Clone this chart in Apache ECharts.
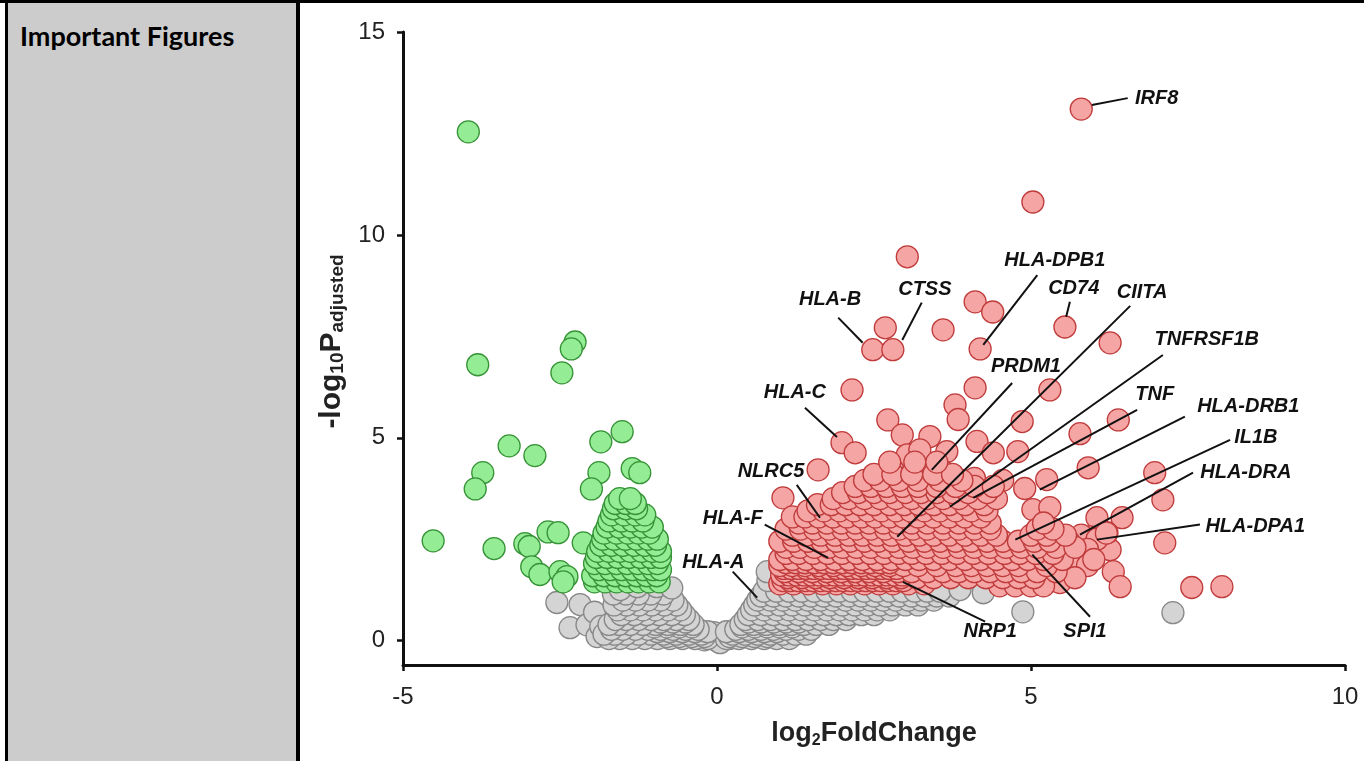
<!DOCTYPE html>
<html>
<head>
<meta charset="utf-8">
<script src="https://cdn.jsdelivr.net/npm/echarts@6/dist/echarts.min.js"></script>
<style>
  html, body { margin: 0; padding: 0; background: #fff; }
  #topline { position: absolute; left: 0; top: 0; width: 1364px; height: 3px; background: #000; }
  #leftline { position: absolute; left: 5px; top: 0; width: 3px; height: 761px; background: #000; }
  #panel { position: absolute; left: 8px; top: 3px; width: 288px; height: 758px; background: #cccccc; }
  #sepline { position: absolute; left: 296px; top: 0; width: 4px; height: 761px; background: #000; }
  #title { position: absolute; left: 20px; top: 22px; font: bold 27px Lato, "Open Sans", sans-serif; line-height: 27px; color: #000; }
  #chart { position: absolute; left: 300px; top: 3px; width: 1064px; height: 758px; }
</style>
</head>
<body>
<div id="panel"></div>
<div id="topline"></div>
<div id="leftline"></div>
<div id="sepline"></div>
<div id="title">Important Figures</div>
<div id="chart"></div>
<script>
// log2FoldChange, -log10(padj)

// down-regulated (green)
const downPoints = [
  [-3.96, 12.54], [-3.81, 6.80], [-2.26, 7.36], [-2.32, 7.19], [-2.47, 6.60],
  [-3.31, 4.80], [-2.90, 4.56], [-3.73, 4.14], [-3.85, 3.74], [-4.52, 2.46],
  [-3.55, 2.27], [-1.85, 4.90], [-1.51, 5.15], [-1.88, 4.14], [-1.35, 4.24],
  [-1.23, 4.14], [-2.00, 3.74], [-2.69, 2.68], [-2.53, 2.66], [-3.06, 2.39],
  [-2.99, 2.32], [-2.95, 1.82], [-2.82, 1.63], [-2.50, 1.70], [-2.39, 1.58],
  [-2.45, 1.45], [-2.13, 2.41], [-1.91, 1.50],
  [-1.95, 1.45], [-1.78, 1.45], [-1.60, 1.45], [-1.42, 1.45], [-1.25, 1.45], [-1.08, 1.45], [-0.92, 1.45],
  [-1.98, 1.60], [-1.80, 1.60], [-1.62, 1.60], [-1.45, 1.60], [-1.28, 1.60], [-1.12, 1.60], [-0.96, 1.60],
  [-1.88, 1.75], [-1.70, 1.75], [-1.52, 1.75], [-1.35, 1.75], [-1.18, 1.75], [-1.02, 1.75], [-0.90, 1.75],
  [-1.95, 1.90], [-1.78, 1.90], [-1.60, 1.90], [-1.43, 1.90], [-1.26, 1.90], [-1.10, 1.90], [-0.95, 1.90],
  [-1.92, 2.05], [-1.75, 2.05], [-1.58, 2.05], [-1.40, 2.05], [-1.22, 2.05], [-1.05, 2.05], [-0.90, 2.05],
  [-1.90, 2.20], [-1.72, 2.20], [-1.55, 2.20], [-1.38, 2.20], [-1.20, 2.20], [-1.03, 2.20], [-0.90, 2.20],
  [-1.85, 2.35], [-1.68, 2.35], [-1.50, 2.35], [-1.32, 2.35], [-1.15, 2.35], [-0.98, 2.35],
  [-1.82, 2.50], [-1.64, 2.50], [-1.46, 2.50], [-1.28, 2.50], [-1.10, 2.50], [-0.95, 2.50],
  [-1.80, 2.65], [-1.60, 2.65], [-1.42, 2.65], [-1.25, 2.65], [-1.08, 2.65],
  [-1.75, 2.80], [-1.56, 2.80], [-1.38, 2.80], [-1.20, 2.80], [-1.03, 2.80],
  [-1.72, 2.95], [-1.52, 2.95], [-1.35, 2.95], [-1.18, 2.95],
  [-1.68, 3.10], [-1.48, 3.10], [-1.30, 3.10], [-1.15, 3.10],
  [-1.65, 3.25], [-1.45, 3.25], [-1.28, 3.25],
  [-1.62, 3.38], [-1.45, 3.38], [-1.30, 3.38],
  [-1.55, 3.50], [-1.38, 3.50]
];

// not significant (grey)
const nsPoints = [
  [-2.55, 0.94], [-2.18, 0.89], [-2.34, 0.32], [-2.07, 0.39], [-1.91, 0.10],
  [-1.75, 0.64], [-1.95, 0.70], [-1.85, 0.35],
  [0.00, 0.00], [0.10, 0.10], [-0.10, 0.10], [0.05, -0.05], [-0.05, 0.20], [0.20, 0.05], [-0.20, 0.02],
  [-0.15, 0.05], [-0.35, 0.05], [-0.55, 0.05], [-0.75, 0.05], [-0.95, 0.05], [-1.15, 0.05], [-1.35, 0.05], [-1.55, 0.05], [-1.72, 0.05],
  [0.15, 0.05], [0.35, 0.05], [0.55, 0.05], [0.75, 0.05], [0.95, 0.05], [1.15, 0.05],
  [-0.40, 0.10], [-0.20, 0.10], [0.20, 0.10], [0.40, 0.10], [0.60, 0.10], [-0.60, 0.10], [-0.80, 0.10], [0.80, 0.10],
  [-0.25, 0.16], [-0.45, 0.16], [-0.65, 0.16], [-0.85, 0.16], [-1.05, 0.16], [-1.25, 0.16], [-1.45, 0.16], [-1.63, 0.16], [-1.80, 0.16],
  [0.25, 0.16], [0.45, 0.16], [0.65, 0.16], [0.85, 0.16], [1.05, 0.16], [1.25, 0.16], [1.42, 0.16],
  [-0.35, 0.22], [-0.15, 0.22], [0.15, 0.22], [0.35, 0.22], [-0.55, 0.22], [0.55, 0.22], [-0.75, 0.22], [0.75, 0.22], [0.95, 0.22], [-0.95, 0.22],
  [-0.30, 0.28], [-0.50, 0.28], [-0.70, 0.28], [-0.90, 0.28], [-1.10, 0.28], [-1.30, 0.28], [-1.50, 0.28], [-1.68, 0.28],
  [0.30, 0.28], [0.50, 0.28], [0.70, 0.28], [0.90, 0.28], [1.10, 0.28], [1.30, 0.28], [1.50, 0.28],
  [-0.40, 0.34], [-0.60, 0.34], [-0.80, 0.34], [0.40, 0.34], [0.60, 0.34], [0.80, 0.34], [1.00, 0.34], [-1.00, 0.34], [1.20, 0.34],
  [-0.38, 0.40], [-0.58, 0.40], [-0.78, 0.40], [-0.98, 0.40], [-1.18, 0.40], [-1.38, 0.40], [-1.56, 0.40], [-1.72, 0.40],
  [0.38, 0.40], [0.58, 0.40], [0.78, 0.40], [0.98, 0.40], [1.18, 0.40], [1.38, 0.40], [1.58, 0.40], [1.78, 0.40],
  [-0.50, 0.46], [-0.70, 0.46], [-0.90, 0.46], [0.50, 0.46], [0.70, 0.46], [0.90, 0.46], [1.10, 0.46], [1.30, 0.46],
  [-0.45, 0.52], [-0.65, 0.52], [-0.85, 0.52], [-1.05, 0.52], [-1.25, 0.52], [-1.45, 0.52], [-1.62, 0.52],
  [0.45, 0.52], [0.65, 0.52], [0.85, 0.52], [1.05, 0.52], [1.25, 0.52], [1.45, 0.52], [1.65, 0.52], [1.85, 0.52], [2.05, 0.52],
  [-0.52, 0.64], [-0.72, 0.64], [-0.92, 0.64], [-1.12, 0.64], [-1.32, 0.64], [-1.52, 0.64],
  [0.50, 0.64], [0.70, 0.64], [0.90, 0.64], [1.10, 0.64], [1.30, 0.64], [1.50, 0.64], [1.70, 0.64], [1.90, 0.64], [2.10, 0.64], [2.30, 0.64], [2.50, 0.64],
  [-0.58, 0.76], [-0.78, 0.76], [-0.98, 0.76], [-1.18, 0.76], [-1.38, 0.76], [-1.58, 0.76],
  [0.55, 0.76], [0.75, 0.76], [0.95, 0.76], [1.15, 0.76], [1.35, 0.76], [1.55, 0.76], [1.75, 0.76], [1.95, 0.76], [2.15, 0.76], [2.35, 0.76], [2.55, 0.76], [2.75, 0.76],
  [-0.64, 0.88], [-0.84, 0.88], [-1.04, 0.88], [-1.24, 0.88], [-1.44, 0.88], [-1.64, 0.88],
  [0.60, 0.88], [0.80, 0.88], [1.00, 0.88], [1.20, 0.88], [1.40, 0.88], [1.60, 0.88], [1.80, 0.88], [2.00, 0.88], [2.20, 0.88], [2.40, 0.88], [2.60, 0.88], [2.80, 0.88], [3.00, 0.88], [3.20, 0.88],
  [-0.70, 1.00], [-0.90, 1.00], [-1.10, 1.00], [-1.30, 1.00], [-1.50, 1.00],
  [0.65, 1.00], [0.85, 1.00], [1.05, 1.00], [1.25, 1.00], [1.45, 1.00], [1.65, 1.00], [1.85, 1.00], [2.05, 1.00], [2.25, 1.00], [2.45, 1.00], [2.65, 1.00], [2.85, 1.00], [3.05, 1.00], [3.25, 1.00], [3.45, 1.00],
  [0.70, 1.10], [0.90, 1.10], [1.10, 1.10], [1.30, 1.10], [1.50, 1.10], [1.70, 1.10], [1.90, 1.10], [2.10, 1.10], [2.30, 1.10], [2.50, 1.10], [2.70, 1.10], [2.90, 1.10], [3.10, 1.10], [3.30, 1.10], [3.50, 1.10], [3.70, 1.10],
  [-0.85, 1.15], [-1.05, 1.15], [-1.25, 1.15], [-1.45, 1.15], [-1.65, 1.15],
  [0.75, 1.22], [0.95, 1.22], [1.15, 1.22], [1.35, 1.22], [1.55, 1.22], [1.75, 1.22], [1.95, 1.22], [2.15, 1.22], [2.35, 1.22], [2.55, 1.22], [2.75, 1.22], [2.95, 1.22], [3.15, 1.22], [3.35, 1.22], [3.55, 1.22],
  [-1.54, 1.26], [-1.27, 1.33], [-0.96, 1.33], [-0.72, 1.30],
  [3.87, 1.26], [4.24, 1.18], [0.81, 1.48], [0.80, 1.70], [4.87, 0.71], [7.26, 0.69]
];

// up-regulated (red)
const upPoints = [
  [5.80, 13.10], [5.03, 10.81], [3.03, 9.46], [4.11, 8.35], [4.39, 8.10],
  [3.60, 7.66], [2.68, 7.71], [2.48, 7.17], [2.80, 7.17], [4.19, 7.19],
  [5.54, 7.73], [6.26, 7.34], [2.15, 6.18], [4.11, 6.23], [5.30, 6.18],
  [3.79, 5.81], [3.84, 5.45], [2.72, 5.44], [2.95, 5.07], [3.39, 5.03],
  [4.86, 5.40], [6.39, 5.44], [5.78, 5.10], [1.99, 4.88], [2.20, 4.63],
  [1.61, 4.21], [1.05, 3.52], [3.03, 4.58], [3.23, 4.70], [3.66, 4.66],
  [4.14, 4.91], [4.40, 4.63], [4.79, 4.66], [5.91, 4.26], [6.97, 4.14],
  [5.25, 3.97], [7.10, 3.47], [6.45, 3.03], [6.05, 3.03], [7.13, 2.41],
  [6.26, 2.24], [6.31, 1.70], [6.42, 1.33], [7.56, 1.31], [8.04, 1.33],
  [5.03, 3.23], [5.30, 3.28], [6.21, 2.66], [5.94, 2.56], [5.73, 2.32],
  [5.51, 2.17], [5.35, 1.92], [5.46, 1.43], [2.55, 4.02], [2.80, 4.21],
  [3.42, 4.21], [3.62, 4.15], [4.10, 4.00], [4.55, 3.95], [4.90, 3.75],
  [5.80, 2.60], [6.05, 2.50], [5.60, 2.45], [5.90, 2.25], [6.20, 2.65],
  [5.65, 2.00], [5.90, 1.85], [5.70, 1.55], [6.00, 2.00],
  [4.50, 1.35], [4.75, 1.35], [5.00, 1.35], [5.20, 1.35],
  [1.00, 1.40], [1.22, 1.40], [1.45, 1.40], [1.68, 1.40], [1.90, 1.40], [2.12, 1.40], [2.35, 1.40], [2.58, 1.40], [2.80, 1.40], [3.05, 1.40], [3.30, 1.40],
  [1.05, 1.48], [1.17, 1.48], [1.29, 1.48], [1.41, 1.48], [1.53, 1.48], [1.65, 1.48], [1.77, 1.48], [1.89, 1.48], [2.01, 1.48],
  [2.13, 1.48], [2.25, 1.48], [2.37, 1.48], [2.49, 1.48], [2.61, 1.48], [2.73, 1.48], [2.85, 1.48], [2.97, 1.48],
  [1.12, 1.55], [1.35, 1.55], [1.57, 1.55], [1.80, 1.55], [2.02, 1.55], [2.25, 1.55], [2.47, 1.55], [2.70, 1.55], [2.93, 1.55],
  [3.18, 1.55], [3.45, 1.55], [3.72, 1.55], [4.00, 1.55], [4.28, 1.55], [4.55, 1.55], [4.80, 1.55], [5.05, 1.55],
  [1.03, 1.62], [1.15, 1.62], [1.27, 1.62], [1.39, 1.62], [1.51, 1.62], [1.63, 1.62], [1.75, 1.62], [1.87, 1.62], [1.99, 1.62],
  [2.11, 1.62], [2.23, 1.62], [2.35, 1.62], [2.47, 1.62], [2.59, 1.62], [2.71, 1.62], [2.83, 1.62], [2.95, 1.62],
  [1.08, 1.70], [1.30, 1.70], [1.52, 1.70], [1.75, 1.70], [1.98, 1.70], [2.20, 1.70], [2.42, 1.70], [2.65, 1.70], [2.88, 1.70], [3.10, 1.70],
  [3.35, 1.70], [3.60, 1.70], [3.85, 1.70], [4.10, 1.70], [4.35, 1.70], [4.60, 1.70], [4.85, 1.70], [5.10, 1.70], [5.40, 1.70],
  [1.06, 1.78], [1.18, 1.78], [1.30, 1.78], [1.42, 1.78], [1.54, 1.78], [1.66, 1.78], [1.78, 1.78], [1.90, 1.78],
  [2.02, 1.78], [2.14, 1.78], [2.26, 1.78], [2.38, 1.78], [2.50, 1.78], [2.62, 1.78], [2.74, 1.78], [2.86, 1.78],
  [1.00, 1.85], [1.20, 1.85], [1.40, 1.85], [1.62, 1.85], [1.85, 1.85], [2.07, 1.85], [2.30, 1.85], [2.52, 1.85], [2.75, 1.85],
  [2.97, 1.85], [3.20, 1.85], [3.50, 1.85], [3.80, 1.85], [4.05, 1.85], [4.30, 1.85], [4.55, 1.85], [4.80, 1.85], [5.25, 1.85],
  [1.10, 1.92], [1.25, 1.92], [1.40, 1.92], [1.55, 1.92], [1.70, 1.92], [1.85, 1.92], [2.00, 1.92], [2.15, 1.92],
  [2.30, 1.92], [2.45, 1.92], [2.60, 1.92], [2.75, 1.92],
  [1.00, 2.00], [1.20, 2.00], [1.42, 2.00], [1.65, 2.00], [1.88, 2.00], [2.10, 2.00], [2.32, 2.00], [2.55, 2.00], [2.78, 2.00], [3.00, 2.00],
  [3.22, 2.00], [3.45, 2.00], [3.70, 2.00], [3.95, 2.00], [4.20, 2.00], [4.45, 2.00], [4.70, 2.00], [4.95, 2.00], [5.20, 2.00], [5.50, 2.00],
  [1.10, 2.15], [1.30, 2.15], [1.53, 2.15], [1.76, 2.15], [1.99, 2.15], [2.22, 2.15], [2.44, 2.15], [2.66, 2.15], [2.89, 2.15], [3.10, 2.15],
  [3.33, 2.15], [3.58, 2.15], [3.82, 2.15], [4.08, 2.15], [4.32, 2.15], [4.58, 2.15], [4.82, 2.15], [5.08, 2.15], [5.35, 2.15],
  [1.10, 2.30], [1.32, 2.30], [1.55, 2.30], [1.78, 2.30], [2.00, 2.30], [2.22, 2.30], [2.45, 2.30], [2.68, 2.30], [2.90, 2.30], [3.12, 2.30],
  [3.35, 2.30], [3.60, 2.30], [3.85, 2.30], [4.10, 2.30], [4.35, 2.30], [4.60, 2.30], [4.85, 2.30], [5.10, 2.30], [5.40, 2.30], [5.70, 2.30],
  [1.00, 2.45], [1.22, 2.45], [1.45, 2.45], [1.67, 2.45], [1.90, 2.45], [2.12, 2.45], [2.35, 2.45], [2.57, 2.45], [2.80, 2.45], [3.05, 2.45],
  [3.30, 2.45], [3.55, 2.45], [3.80, 2.45], [4.05, 2.45], [4.30, 2.45], [4.55, 2.45], [4.80, 2.45], [5.05, 2.45], [5.30, 2.45],
  [1.20, 2.60], [1.42, 2.60], [1.65, 2.60], [1.88, 2.60], [2.10, 2.60], [2.32, 2.60], [2.55, 2.60], [2.78, 2.60], [3.00, 2.60],
  [3.22, 2.60], [3.45, 2.60], [3.70, 2.60], [3.95, 2.60], [4.20, 2.60], [4.45, 2.60], [5.00, 2.60], [5.25, 2.60], [5.55, 2.60],
  [1.10, 2.75], [1.33, 2.75], [1.55, 2.75], [1.78, 2.75], [2.00, 2.75], [2.22, 2.75], [2.45, 2.75], [2.68, 2.75], [2.90, 2.75],
  [3.12, 2.75], [3.35, 2.75], [3.60, 2.75], [3.85, 2.75], [4.10, 2.75], [4.35, 2.75], [5.10, 2.75], [5.35, 2.75],
  [1.30, 2.90], [1.52, 2.90], [1.75, 2.90], [1.98, 2.90], [2.20, 2.90], [2.42, 2.90], [2.65, 2.90], [2.88, 2.90],
  [3.10, 2.90], [3.35, 2.90], [3.60, 2.90], [3.85, 2.90], [4.10, 2.90], [4.35, 2.90], [5.20, 2.90],
  [1.20, 3.05], [1.40, 3.05], [1.62, 3.05], [1.85, 3.05], [2.07, 3.05], [2.30, 3.05], [2.52, 3.05], [2.75, 3.05], [2.97, 3.05],
  [3.20, 3.05], [3.45, 3.05], [3.70, 3.05], [3.95, 3.05], [4.20, 3.05],
  [1.45, 3.20], [1.70, 3.20], [1.95, 3.20], [2.18, 3.20], [2.40, 3.20], [2.62, 3.20], [2.85, 3.20],
  [3.08, 3.20], [3.30, 3.20], [3.55, 3.20], [3.80, 3.20], [4.05, 3.20], [4.30, 3.20],
  [1.60, 3.35], [1.82, 3.35], [2.05, 3.35], [2.28, 3.35], [2.50, 3.35], [2.75, 3.35], [2.98, 3.35], [3.22, 3.35], [3.45, 3.35], [3.70, 3.35], [3.95, 3.35], [4.25, 3.35],
  [1.85, 3.50], [2.10, 3.50], [2.35, 3.50], [2.60, 3.50], [2.85, 3.50], [3.10, 3.50], [3.35, 3.50], [3.60, 3.50], [3.85, 3.50], [4.15, 3.50], [4.45, 3.50],
  [2.00, 3.65], [2.25, 3.65], [2.50, 3.65], [2.75, 3.65], [3.00, 3.65], [3.25, 3.65], [3.50, 3.65], [3.75, 3.65], [4.00, 3.65], [4.30, 3.65],
  [2.20, 3.80], [2.45, 3.80], [2.70, 3.80], [2.95, 3.80], [3.20, 3.80], [3.50, 3.80], [3.80, 3.80], [4.10, 3.80], [4.40, 3.80],
  [2.35, 3.95], [2.60, 3.95], [2.90, 3.95], [3.20, 3.95], [3.55, 3.95], [3.90, 3.95],
  [2.50, 4.10], [2.80, 4.10], [3.10, 4.10], [3.45, 4.10], [3.75, 4.10],
  [2.75, 4.40], [3.15, 4.40], [3.50, 4.40]
];

// labelled genes: leader line start, leader line end, text centre
const labelGenes = ['IRF8', 'HLA-DPB1', 'CD74', 'CTSS', 'HLA-B', 'HLA-C', 'PRDM1', 'CIITA',
  'TNFRSF1B', 'TNF', 'HLA-DRB1', 'IL1B', 'HLA-DRA', 'HLA-DPA1', 'SPI1', 'NRP1',
  'HLA-A', 'HLA-F', 'NLRC5'];
const labelLineStart = [
  [5.97, 13.20], [4.24, 7.29], [5.56, 7.98], [2.95, 7.41], [2.32, 7.34], [1.91, 5.02], [3.42, 4.21], [2.87, 2.56],
  [3.71, 3.30], [4.08, 3.52], [5.14, 3.72], [4.75, 2.49], [5.78, 2.61], [6.05, 2.49], [5.02, 2.12], [2.96, 1.45],
  [0.64, 1.06], [1.77, 2.04], [1.64, 3.03]
];
const labelLineEnd = [
  [6.54, 13.37], [5.10, 9.01], [5.62, 8.35], [3.26, 8.33], [1.93, 7.96], [1.40, 5.74], [4.70, 6.35], [6.58, 8.25],
  [7.10, 7.04], [6.69, 5.69], [7.45, 5.52], [8.17, 4.95], [7.58, 4.14], [7.69, 2.86], [5.94, 0.59], [4.27, 0.47],
  [0.25, 1.70], [0.76, 2.86], [1.27, 3.84]
];
const labelText = [
  [7.00, 13.37], [5.38, 9.38], [5.68, 8.69], [3.31, 8.65], [1.80, 8.40], [1.24, 6.11], [4.92, 6.75], [6.77, 8.57],
  [7.80, 7.41], [6.97, 6.06], [8.46, 5.76], [8.58, 5.00], [8.42, 4.14], [8.57, 2.81], [5.86, 0.22], [4.35, 0.22],
  [-0.06, 1.92], [0.25, 3.00], [0.86, 4.16]
];

const xTicks = [-5, 0, 5, 10];
const yTicks = [0, 5, 10, 15];

const chart = echarts.init(document.getElementById('chart'));

function renderLabel(params, api) {
  const i = params.dataIndex;
  const s = api.coord([api.value(0), api.value(1)]);
  const e = api.coord([api.value(2), api.value(3)]);
  const t = api.coord([api.value(4), api.value(5)]);
  return {
    type: 'group',
    children: [
      {
        type: 'line',
        shape: { x1: s[0], y1: s[1], x2: e[0], y2: e[1] },
        style: { stroke: '#111', lineWidth: 2 }
      },
      {
        type: 'text',
        x: t[0],
        y: t[1],
        style: {
          text: labelGenes[i],
          font: 'italic bold 20px "Liberation Sans", Arial, sans-serif',
          fill: '#111',
          align: 'center',
          verticalAlign: 'middle'
        }
      }
    ]
  };
}

const dotStyle = (fill, border) => ({ color: fill, borderColor: border, borderWidth: 1.3, opacity: 1 });

chart.setOption({
  animation: false,
  grid: { left: 103, right: 19, top: 29, bottom: 96 },
  xAxis: {
    type: 'value',
    min: -5,
    max: 10,
    interval: 5,
    name: '{m|log}{s|2}{m|FoldChange}',
    nameLocation: 'middle',
    nameGap: 54,
    nameTextStyle: {
      rich: {
        m: { fontFamily: '"Liberation Sans", Arial', fontWeight: 'bold', fontSize: 27, color: '#222', lineHeight: 30 },
        s: { fontFamily: '"Liberation Sans", Arial', fontWeight: 'bold', fontSize: 16, color: '#222', lineHeight: 14, verticalAlign: 'bottom' }
      }
    },
    axisLine: { onZero: false, lineStyle: { color: '#111', width: 3 } },
    axisTick: { length: 6, lineStyle: { color: '#111', width: 2.5 } },
    axisLabel: {
      margin: 20,
      fontSize: 24,
      fontFamily: '"Liberation Sans", Arial',
      color: '#222',
      customValues: xTicks
    },
    splitLine: { show: false }
  },
  yAxis: {
    type: 'value',
    min: -0.6,
    max: 15,
    name: '{m|-log}{s|10}{m|P}{s|adjusted}',
    nameLocation: 'middle',
    nameGap: 50,
    nameTextStyle: {
      padding: [0, 0, 0, 14],
      rich: {
        m: { fontFamily: '"Liberation Sans", Arial', fontWeight: 'bold', fontSize: 30, color: '#222', lineHeight: 32 },
        s: { fontFamily: '"Liberation Sans", Arial', fontWeight: 'bold', fontSize: 19, color: '#222', lineHeight: 15, verticalAlign: 'bottom' }
      }
    },
    axisLine: { show: true, onZero: false, lineStyle: { color: '#111', width: 3 } },
    axisTick: { show: true, length: 6, lineStyle: { color: '#111', width: 2.5 }, customValues: yTicks },
    axisLabel: {
      margin: 18,
      fontSize: 24,
      fontFamily: '"Liberation Sans", Arial',
      color: '#222',
      customValues: yTicks
    },
    splitLine: { show: false }
  },
  series: [
    {
      type: 'scatter',
      data: nsPoints,
      symbolSize: 22,
      itemStyle: dotStyle('#d4d4d4', '#888888'),
      z: 2
    },
    {
      type: 'scatter',
      data: downPoints,
      symbolSize: 22,
      itemStyle: dotStyle('#94ec94', '#379337'),
      z: 3
    },
    {
      type: 'scatter',
      data: upPoints,
      symbolSize: 22,
      itemStyle: dotStyle('#f6a5a5', '#c03c3c'),
      z: 4
    },
    {
      type: 'custom',
      renderItem: renderLabel,
      data: labelGenes.map((g, i) => labelLineStart[i].concat(labelLineEnd[i], labelText[i])),
      encode: { x: [0, 2, 4], y: [1, 3, 5] },
      clip: false,
      silent: true,
      z: 10
    }
  ]
});
</script>
</body>
</html>
